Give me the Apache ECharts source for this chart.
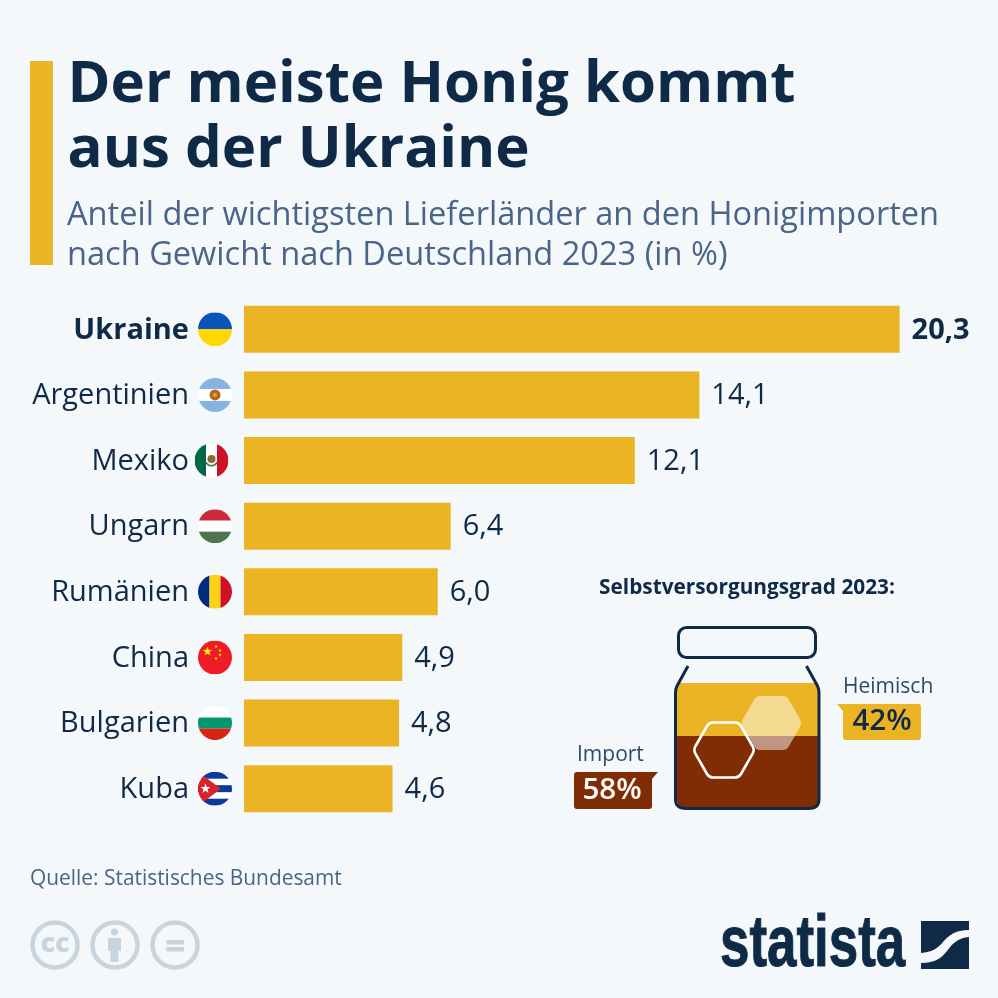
<!DOCTYPE html>
<html>
<head>
<meta charset="utf-8">
<style>html,body{margin:0;padding:0;background:#f4f8fb}#chart{width:998px;height:998px}</style>
<script src="https://cdn.jsdelivr.net/npm/echarts@6/dist/echarts.min.js"></script>
</head>
<body>
<div id="chart"></div>
<script>
var countries = ['Ukraine', 'Argentinien', 'Mexiko', 'Ungarn', 'Rumänien', 'China', 'Bulgarien', 'Kuba'];
var shares = [20.3, 14.1, 12.1, 6.4, 6.0, 4.9, 4.8, 4.6];
var originNames = ['Import', 'Heimisch'];
var originShares = [58, 42];

var NAVY = '#0f2a47', SLATE = '#4a6587', HONEY = '#ebb424', BROWN = '#802d05', BG = '#f4f8fb', GREY = '#c8d5de';
var FONT = '"Open Sans", sans-serif';

function svgFlag(body) {
  var svg = '<svg xmlns="http://www.w3.org/2000/svg" width="136" height="136" viewBox="0 0 34 34">' +
    '<defs><clipPath id="c"><circle cx="17" cy="17" r="17"/></clipPath></defs><g clip-path="url(#c)">' + body + '</g></svg>';
  return 'data:image/svg+xml;charset=utf-8,' + encodeURIComponent(svg);
}
function r(x, y, w, h, c) { return '<rect x="' + x + '" y="' + y + '" width="' + w + '" height="' + h + '" fill="' + c + '"/>'; }
function star(cx, cy, rad, c, rot) {
  var pts = [];
  for (var i = 0; i < 10; i++) {
    var a = (rot || 0) - Math.PI / 2 + i * Math.PI / 5, q = i % 2 ? rad * 0.4 : rad;
    pts.push((cx + q * Math.cos(a)).toFixed(2) + ',' + (cy + q * Math.sin(a)).toFixed(2));
  }
  return '<polygon points="' + pts.join(' ') + '" fill="' + c + '"/>';
}

var flags = [
  svgFlag(r(0, 0, 34, 17, '#0a53b8') + r(0, 17, 34, 17, '#ffd800')),
  svgFlag(r(0, 0, 34, 34, '#ffffff') + r(0, 0, 34, 11, '#86b4e2') + r(0, 23, 34, 11, '#86b4e2') +
    '<circle cx="17" cy="17" r="5.5" fill="#b5651d"/><circle cx="17" cy="17" r="2.2" fill="#e0a030"/>'),
  svgFlag(r(0, 0, 11.5, 34, '#006847') + r(11.5, 0, 11, 34, '#ffffff') + r(22.5, 0, 11.5, 34, '#ce1126') +
    '<circle cx="17" cy="15.5" r="4" fill="#8a6a3a"/><path d="M11.5 18.5a6 6 0 0 0 11 0" fill="none" stroke="#3f7d4d" stroke-width="1.6"/>'),
  svgFlag(r(0, 0, 34, 11.5, '#cd2a3e') + r(0, 11.5, 34, 11, '#ffffff') + r(0, 22.5, 34, 11.5, '#4f7550')),
  svgFlag(r(0, 0, 11.5, 34, '#002b7f') + r(11.5, 0, 11, 34, '#fcd116') + r(22.5, 0, 11.5, 34, '#ce1126')),
  svgFlag(r(0, 0, 34, 34, '#ee1c25') + star(9.5, 11, 5, '#ffe600') + star(18, 6, 1.8, '#ffe600') +
    star(22, 10, 1.8, '#ffe600') + star(22, 14.5, 1.8, '#ffe600') + star(18, 18, 1.8, '#ffe600')),
  svgFlag(r(0, 0, 34, 11.5, '#ffffff') + r(0, 11.5, 34, 11, '#00966e') + r(0, 22.5, 34, 11.5, '#d62612')),
  svgFlag(r(0, 0, 34, 34, '#ffffff') + r(0, 0, 34, 7, '#0a3a9c') + r(0, 13.5, 34, 7, '#0a3a9c') + r(0, 27, 34, 7, '#0a3a9c') +
    '<polygon points="0,0 23,17 0,34" fill="#d8232a"/>' + star(7.5, 17, 5.2, '#ffffff'))
];
var flagX = [198, 198, 194.5, 198, 198, 198, 198, 198];

var shapeCount = 0;
function pathEl(d, style, z) {
  // the graphic component only takes registered shapes, so each outline gets its own
  var name = 'decorPath' + (shapeCount++);
  echarts.graphic.registerShape(name, echarts.graphic.extendPath(d, {}));
  return { type: name, z: z || 15, style: style };
}
function text(x, y, str, size, weight, color, align) {
  return { type: 'text', z: 20, style: { x: x, y: y, text: str, fontFamily: FONT, fontSize: size, fontWeight: weight, fill: color, align: align || 'left', verticalAlign: 'middle' } };
}
function stroke(color, width) { return { fill: 'none', stroke: color, lineWidth: width }; }

var decor = [
  { type: 'rect', shape: { x: 30, y: 61, width: 23, height: 204 }, style: { fill: HONEY } },
  text(67.5, 85.5, 'Der meiste Honig kommt', 58.2, 700, NAVY),
  text(67.5, 150.5, 'aus der Ukraine', 58.2, 700, NAVY),
  text(67, 215.5, 'Anteil der wichtigsten Lieferländer an den Honigimporten', 32.6, 400, SLATE),
  text(67, 255.5, 'nach Gewicht nach Deutschland 2023 (in %)', 32.6, 400, SLATE),
  text(747, 588, 'Selbstversorgungsgrad 2023:', 20.8, 700, NAVY, 'center'),
  // jar
  { type: 'rect', z: 15, shape: { x: 678.5, y: 627.5, width: 137, height: 30, r: 8 }, style: stroke(NAVY, 3) },
  pathEl('M688 666L677 686Q675.5 689 675.5 693V799Q675.5 808.5 686 808.5H809Q819 808.5 819 799V693Q819 689 817.5 686L806.5 666', stroke(NAVY, 3)),
  pathEl('M743 719L754 700Q756 696 760 696H783Q787 696 789 700L800 719Q802 723 800 727L789 746Q787 750 783 750H760Q756 750 754 746L743 727Q741 723 743 719Z', { fill: 'rgba(255,255,255,0.5)' }),
  pathEl('M695 747L707 726Q709 722.5 713 722.5H735Q739 722.5 741 726L753 747Q754.5 750 753 753L741 774Q739 777.5 735 777.5H713Q709 777.5 707 774L695 753Q693.5 750 695 747Z', stroke('#ffffff', 2.6), 16),
  // callouts
  text(843, 687, originNames[1], 21, 400, '#2c4a6a'),
  pathEl('M837 704H918Q921 704 921 707V737Q921 740 918 740H846Q843 740 843 737V711Z', { fill: HONEY }),
  text(882, 721.5, originShares[1] + '%', 29.5, 600, NAVY, 'center'),
  text(577, 755, originNames[0], 21, 400, '#2c4a6a'),
  pathEl('M577 772H658L652 779V806Q652 809 649 809H577Q574 809 574 806V775Q574 772 577 772Z', { fill: BROWN }),
  text(612, 790.5, originShares[0] + '%', 29.5, 600, '#ffffff', 'center'),
  // source and licence marks
  text(30, 879.5, 'Quelle: Statistisches Bundesamt', 20.9, 400, SLATE),
  { type: 'circle', shape: { cx: 55, cy: 945, r: 22.5 }, style: stroke(GREY, 4.5) },
  { type: 'circle', shape: { cx: 115, cy: 945, r: 22.5 }, style: stroke(GREY, 4.5) },
  { type: 'circle', shape: { cx: 175, cy: 945, r: 22.5 }, style: stroke(GREY, 4.5) },
  text(55, 944, 'cc', 27, 800, GREY, 'center'),
  { type: 'circle', shape: { cx: 114.5, cy: 932, r: 3.5 }, style: { fill: GREY } },
  pathEl('M108 938H121V951H118.5V962H110.5V951H108Z', { fill: GREY }),
  { type: 'rect', shape: { x: 166.5, y: 940, width: 17.5, height: 4.5 }, style: { fill: GREY } },
  { type: 'rect', shape: { x: 166.5, y: 947, width: 17.5, height: 4.5 }, style: { fill: GREY } },
  // logo
  { type: 'text', z: 20, x: 720, scaleX: 0.735, style: { x: 0, y: 946, text: 'statista', fontFamily: '"Liberation Sans", sans-serif', fontSize: 72, fontWeight: 700, fill: NAVY, stroke: NAVY, lineWidth: 1, align: 'left', verticalAlign: 'middle' } },
  pathEl('M921 921H969V930C955 930 949 935 943 942C937 949 932 952 921 953Z', { fill: NAVY }),
  pathEl('M969 937V969H921V963C934 963 941 959 947 951C953 943 958 938 969 937Z', { fill: NAVY })
];

var chart = echarts.init(document.getElementById('chart'), null, { renderer: 'canvas' });
chart.setOption({
  animation: false,
  backgroundColor: BG,
  grid: [
    { left: 244, top: 296.5, width: 726, height: 525 },
    { left: 677, top: 683, width: 141, height: 126 }
  ],
  xAxis: [
    { type: 'value', gridIndex: 0, min: 0, max: 22.48, show: false },
    { type: 'category', gridIndex: 1, data: ['Honig'], show: false }
  ],
  yAxis: [
    {
      type: 'category', gridIndex: 0, data: countries, inverse: true,
      axisLine: { show: false }, axisTick: { show: false },
      axisLabel: {
        margin: 55, padding: [2, 0, 0, 0], fontFamily: FONT, fontSize: 29, color: NAVY,
        formatter: function(v) { return v === countries[0] ? '{b|' + v + '}' : v; },
        rich: { b: { fontFamily: FONT, fontSize: 29, fontWeight: 700, color: NAVY } }
      }
    },
    { type: 'value', gridIndex: 1, min: 0, max: 100, show: false }
  ],
  series: [
    {
      type: 'bar', xAxisIndex: 0, yAxisIndex: 0, barWidth: 47, itemStyle: { color: HONEY },
      data: shares.map(function(v, i) {
        return { value: v, label: { fontWeight: i === 0 ? 700 : 400 } };
      }),
      label: {
        show: true, position: 'right', distance: 12, offset: [0, 1], fontFamily: FONT, fontSize: 29, color: NAVY,
        formatter: function(p) { return p.value.toFixed(1).replace('.', ','); }
      }
    },
    {
      name: originNames[0], type: 'bar', stack: 'jar', xAxisIndex: 1, yAxisIndex: 1, barWidth: '100%',
      itemStyle: { color: BROWN, borderRadius: [0, 0, 9, 9] }, data: [originShares[0]]
    },
    {
      name: originNames[1], type: 'bar', stack: 'jar', xAxisIndex: 1, yAxisIndex: 1, barWidth: '100%',
      itemStyle: { color: HONEY }, data: [originShares[1]]
    }
  ],
  graphic: decor
});

// flags sit beside the category labels
var flagImages = countries.map(function(c, i) {
  var cy = chart.convertToPixel({ yAxisIndex: 0 }, c);
  return { type: 'image', z: 20, style: { image: flags[i], x: flagX[i], y: cy - 17, width: 34, height: 34 } };
});
chart.setOption({ graphic: decor.concat(flagImages) });
</script>
</body>
</html>
